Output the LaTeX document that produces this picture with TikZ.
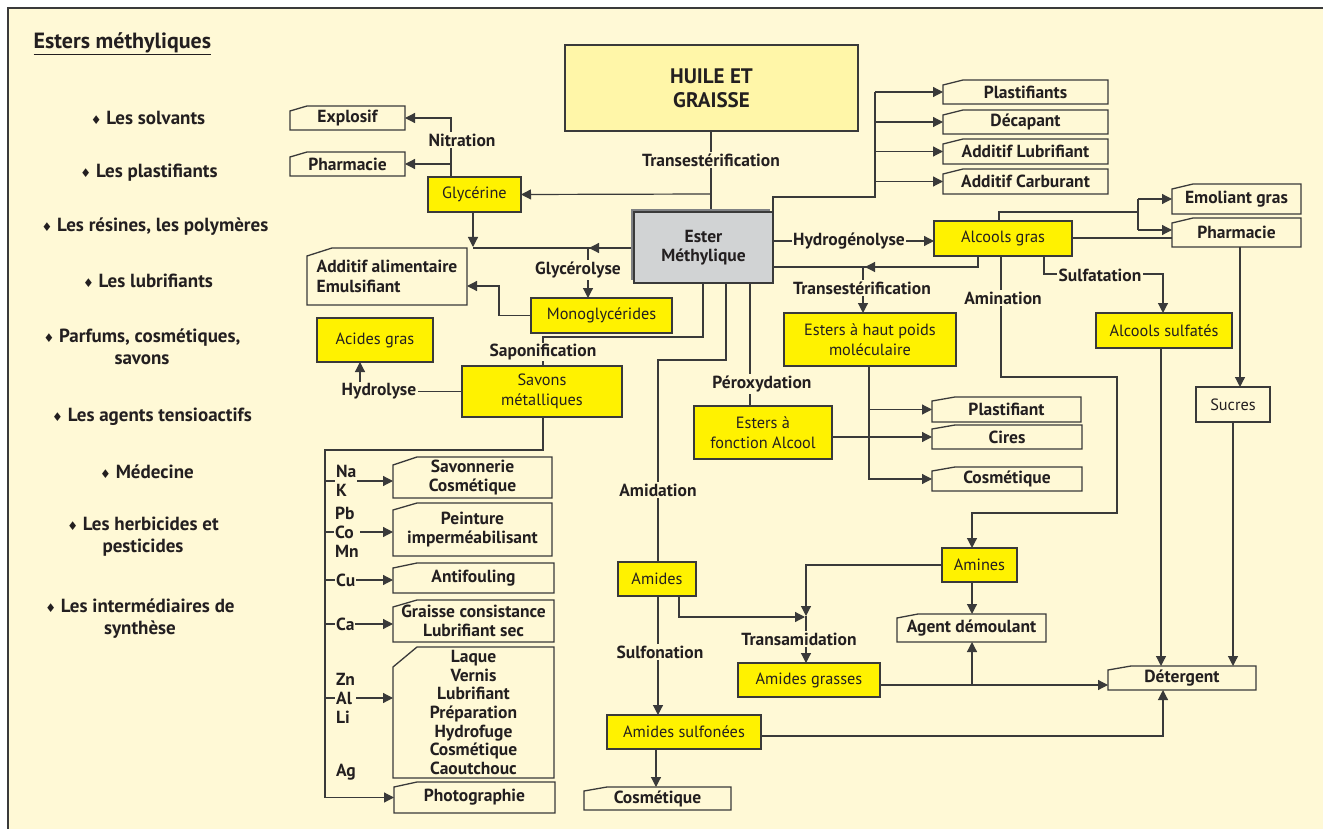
\documentclass[tikz,border=0pt]{standalone}
\usepackage{fontspec}
\setmainfont{PT Sans}
\newfontfamily\djv{DejaVu Sans}
\usetikzlibrary{arrows.meta,calc}
\definecolor{bgc}{HTML}{FFF9D6}
\definecolor{yel}{HTML}{FFF200}
\definecolor{huil}{HTML}{FFF6A8}
\definecolor{gry}{HTML}{D1D3D4}
\definecolor{shd}{HTML}{808285}
\definecolor{ln}{HTML}{3A3A3A}
\definecolor{tx}{HTML}{231F20}
\pgfdeclarelayer{back}\pgfdeclarelayer{edges}\pgfsetlayers{back,edges,main}
\newcommand\myfs{\fontsize{17.5}{19.5}\selectfont}
\newcommand\myfr{\fontsize{16.3}{20}\selectfont}
\newcommand\myfh{\fontsize{21}{24}\selectfont}
\newcommand\myfl{\fontsize{19}{22}\selectfont}
\newcommand\myft{\fontsize{22}{24}\selectfont}
\newcommand\dia{{\djv\fontsize{12}{12}\selectfont ♦}}
\newcommand{\bx}[7]{%
 \pgfmathsetmacro\bw{#4-#2}\pgfmathsetmacro\bh{#5-#3}%
 \pgfmathsetmacro\bcx{(#2+#4)/2}\pgfmathsetmacro\bcy{(#3+#5)/2}%
 \node[#6, minimum width=\bw pt, minimum height=\bh pt] (#1) at (\bcx,\bcy) {#7};}
\newcommand{\ob}[9]{%
 \bx{#1}{#2}{#3}{#4}{#5}{obox,#8}{#9}%
 \draw[boxline] ({#2},{#5}) -- ({#2},{#3+#7}) -- ({#2+#6},{#3}) -- ({#4},{#3}) -- ({#4},{#5}) -- cycle;}
\tikzset{
 box/.style={draw=ln, line width=1.3pt, inner sep=0pt, outer sep=0pt, align=center, text=tx, font=\myfr},
 ybox/.style={box, fill=yel},
 obox/.style={inner sep=0pt, outer sep=0pt, align=center, text=tx, font=\myfs\bfseries},
 boxline/.style={draw=ln, line width=1.3pt, line join=miter},
 con/.style={draw=ln, line width=1.2pt},
 arr/.style={con, -{Triangle[length=10pt,width=10pt]}},
 lab/.style={fill=bgc, inner sep=1.5pt, text=tx, font=\myfs\bfseries},
 met/.style={fill=bgc, inner sep=1pt, text=tx, font=\fontsize{17.5}{19}\selectfont\bfseries, align=left, anchor=west},
 item/.style={text=tx, font=\myfl\bfseries, align=center},
}
\begin{document}
\begin{tikzpicture}[x=1pt,y=-1pt]
\useasboundingbox (0,0) rectangle (1323,829);
\begin{pgfonlayer}{back}
\fill[white] (0,0) rectangle (1323,829);
\fill[bgc] (8,8) rectangle (1323,829);
\draw[ln, line width=1.2pt] (8,829) -- (8,8) -- (1323,8);
\end{pgfonlayer}

% left column
\node[anchor=west, text=tx, font=\myft\bfseries] (title) at (30,44) {\underline{Esters méthyliques}};
\node[item] (i1) at (148,118) {\dia\ Les solvants};
\node[item] (i2) at (149,173) {\dia\ Les plastifiants};
\node[item] (i3) at (155,227) {\dia\ Les résines, les polymères};
\node[item] (i4) at (148,281) {\dia\ Les lubrifiants};
\node[item] (i5) at (142,347) {\dia\ Parfums, cosmétiques,\\savons};
\node[item] (i6) at (152,417) {\dia\ Les agents tensioactifs};
\node[item] (i7) at (147,472) {\dia\ Médecine};
\node[item] (i8) at (143,537) {\dia\ Les herbicides et\\pesticides};
\node[item] (i9) at (140,619) {\dia\ Les intermédiaires de\\synthèse};

% boxes
\bx{huile}{565}{45}{858}{131}{box, fill=huil, font=\myfh\bfseries}{HUILE ET\\GRAISSE}
\fill[shd] (631,209) rectangle (770,280);
\bx{ester}{634}{212}{773}{283}{box, fill=gry, font=\myfs\bfseries}{Ester\\Méthylique}
\bx{glyc}{428}{177}{521}{212}{ybox}{Glycérine}
\ob{explosif}{290}{106}{405}{130}{17}{5}{}{Explosif}
\ob{pharmL}{290}{152}{405}{176}{17}{5}{}{Pharmacie}
\ob{additif}{307}{248}{467}{305}{25}{8}{align=left}{Additif alimentaire\\Emulsifiant}
\bx{mono}{531}{298}{672}{333}{ybox}{Monoglycérides}
\bx{acides}{317}{318}{433}{362}{ybox}{Acides gras}
\bx{savons}{462}{366}{622}{417}{ybox}{Savons\\métalliques}
\ob{savonnerie}{393}{457}{552}{498}{24}{8}{}{Savonnerie\\Cosmétique}
\ob{peinture}{393}{503}{552}{556}{24}{7}{}{Peinture\\imperméabilisant}
\ob{antif}{393}{563}{554}{593}{24}{5}{}{Antifouling}
\ob{graisse}{393}{600}{554}{642}{24}{7}{}{Graisse consistance\\Lubrifiant sec}
\ob{laque}{393}{647}{554}{778}{24}{20}{font=\fontsize{17.5}{18.7}\selectfont\bfseries}{Laque\\Vernis\\Lubrifiant\\Préparation\\Hydrofuge\\Cosmétique\\Caoutchouc}
\ob{photo}{394}{782}{555}{813}{23}{5}{}{Photographie}
\ob{plastif}{943}{80}{1108}{104}{20}{5}{}{Plastifiants}
\ob{decap}{943}{110}{1108}{134}{20}{5}{}{Décapant}
\ob{addlub}{943}{139}{1108}{164}{20}{5}{}{Additif Lubrifiant}
\ob{addcarb}{943}{169}{1108}{194}{20}{5}{}{Additif Carburant}
\bx{alcools}{934}{221}{1072}{256}{ybox}{Alcools gras}
\ob{emol}{1172}{184}{1301}{214}{21}{5}{}{Emoliant gras}
\ob{pharmR}{1172}{218}{1301}{247}{21}{5}{}{Pharmacie}
\bx{esthp}{784}{313}{956}{366}{ybox}{Esters à haut poids\\moléculaire}
\bx{alcsulf}{1096}{313}{1232}{348}{ybox}{Alcools sulfatés}
\bx{sucres}{1196}{387}{1270}{422}{box}{Sucres}
\bx{estfa}{694}{406}{832}{459}{ybox}{Esters à\\fonction Alcool}
\ob{plastM}{932}{397}{1081}{422}{23}{4}{}{Plastifiant}
\ob{cires}{932}{425}{1082}{449}{23}{4}{}{Cires}
\ob{cosmM}{932}{467}{1082}{491}{23}{4}{}{Cosmétique}
\bx{amides}{618}{562}{696}{596}{ybox}{Amides}
\bx{amines}{942}{548}{1017}{582}{ybox}{Amines}
\ob{agent}{897}{614}{1046}{642}{21}{4}{}{Agent démoulant}
\bx{amgr}{738}{663}{880}{697}{ybox}{Amides grasses}
\ob{deterg}{1108}{666}{1256}{690}{23}{4}{}{Détergent}
\bx{amsulf}{607}{715}{761}{749}{ybox}{Amides sulfonées}
\ob{cosmB}{584}{787}{731}{810}{23}{4}{}{Cosmétique}

% labels
\node[lab] (l1) at (711,160) {Transestérification};
\node[lab] (l2) at (462,140) {Nitration};
\node[lab] (l3) at (578,270) {Glycérolyse};
\node[lab] (l4) at (543,352) {Saponification};
\node[lab] (l5) at (379,391) {Hydrolyse};
\node[lab] (l6) at (849,241) {Hydrogénolyse};
\node[lab] (l7) at (862,288) {Transestérification};
\node[lab] (l8) at (762,384) {Péroxydation};
\node[lab] (l9) at (658,490) {Amidation};
\node[lab] (l10) at (660,652) {Sulfonation};
\node[lab] (l11) at (799,639) {Transamidation};
\node[lab] (l12) at (1003,298) {Amination};
\node[lab] (l13) at (1100,275) {Sulfatation};
\node[met] (m1) at (335,481) {Na\\K};
\node[met] (m2) at (334,532) {Pb\\Co\\Mn};
\node[met] (m3) at (335,580) {Cu};
\node[met] (m4) at (335,624) {Ca};
\node[met] (m5) at (335,698) {Zn\\Al\\Li};
\node[met] (m6) at (335,772) {Ag};

\begin{pgfonlayer}{edges}
\draw[con] (huile.south -| 711,0) -- (ester.north -| 711,0);
\draw[arr] (711,194) -- (glyc.east);
\draw[arr] (glyc.north -| 451,0) |- (explosif.east);
\draw[arr] (451,164) -- (pharmL.east);
\draw[arr] (glyc.south -| 473,0) -- (473,247);
\draw[arr] (ester.west |- 0,248) -- (589,248);
\draw[con] (591,248) -- (473,248);
\draw[arr] (588,248) -- (mono.north -| 588,0);
\draw[arr] (mono.west) -| (499,286) -- (additif.east |- 0,286);
\draw[con] (ester.south -| 703,0) |- (543,337) -- (savons.north -| 543,0);
\draw[con] (savons.west) -- (360,391.5);
\draw[arr] (360,391.5) -- (acides.south -| 360,0);
\draw[arr] (savons.south -| 543,0) |- (325,450) |- (photo.west);
\draw[arr] (325,481) -- (savonnerie.west |- 0,481);
\draw[arr] (325,532) -- (peinture.west |- 0,532);
\draw[arr] (325,580) -- (antif.west |- 0,580);
\draw[arr] (325,624) -- (graisse.west |- 0,624);
\draw[arr] (325,698) -- (laque.west |- 0,698);
\draw[con] (ester.north east) |- (875,197) -- (875,92);
\draw[arr] (plastif.west -| 875,0) -- (plastif.west);
\draw[arr] (decap.west -| 875,0) -- (decap.west);
\draw[arr] (addlub.west -| 875,0) -- (addlub.west);
\draw[arr] (addcarb.west -| 875,0) -- (addcarb.west);
\draw[arr] (ester.east |- 0,241) -- (alcools.west |- 0,241);
\draw[arr] (alcools.south -| 978,0) |- (865,267);
\draw[con] (867,267) -- (ester.east |- 0,267);
\draw[arr] (863,267) -- (esthp.north -| 863,0);
\draw[arr] (esthp.south -| 869,0) |- (cosmM.west);
\draw[arr] (plastM.west -| 869,0) -- (plastM.west);
\draw[arr] (estfa.east |- cires.west) -- (cires.west);
\draw[con] (ester.south -| 750,0) -- (estfa.north -| 750,0);
\draw[con] (ester.south -| 726,0) |- (658,360) -- (amides.north -| 658,0);
\draw[arr] (amides.south -| 658,0) -- (amsulf.north -| 658,0);
\draw[arr] (amsulf.south -| 656,0) -- (cosmB.north -| 656,0);
\draw[arr] (amides.south -| 679,0) |- (805,617);
\draw[arr] (amines.west) -| (806,616);
\draw[arr] (806,616) -- (amgr.north -| 806,0);
\draw[arr] (amines.south -| 972,0) -- (agent.north -| 972,0);
\draw[arr] (amgr.east |- 0,685) -- (deterg.west |- 0,685);
\draw[arr] (972,685) -- (agent.south -| 972,0);
\draw[arr] (amsulf.east |- 0,736) -| (deterg.south -| 1163,0);
\draw[arr] (alcsulf.south -| 1161,0) -- (deterg.north -| 1161,0);
\draw[arr] (sucres.south -| 1233,0) -- (deterg.north -| 1233,0);
\draw[arr] (alcools.south -| 1001,0) -- (1001,377) -- (1117,377) -- (1117,513) -- (972,513) -- (amines.north -| 972,0);
\draw[arr] (alcools.south -| 1044,0) |- (1163,274) -- (alcsulf.north -| 1163,0);
\draw[con] (alcools.north -| 999,0) |- (1138,212);
\draw[con] (1138,199) -- (1138,230);
\draw[arr] (emol.west -| 1138,0) -- (emol.west);
\draw[arr] (1138,230) -- (pharmR.west |- 0,230);
\draw[con] (alcools.east |- 0,238) -- (pharmR.west |- 0,238);
\draw[arr] (pharmR.south -| 1240,0) -- (sucres.north -| 1240,0);
\end{pgfonlayer}
\end{tikzpicture}
\end{document}
